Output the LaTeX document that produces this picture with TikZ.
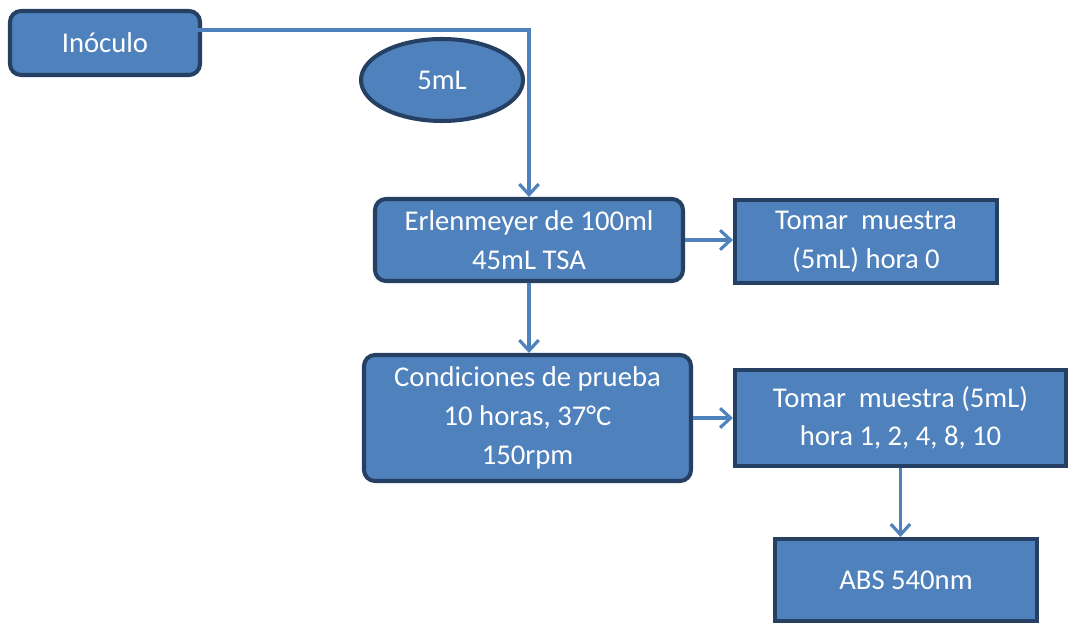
\documentclass[tikz,border=0pt]{standalone}
\usepackage{fontspec}
\setmainfont{Carlito}
\usepackage{tikz}
\usetikzlibrary{arrows.meta,positioning,calc,shapes.geometric}

\definecolor{boxblue}{RGB}{79,129,189}
\definecolor{boxedge}{RGB}{38,64,100}

\begin{document}
\begin{tikzpicture}[
    box/.style={draw=boxedge, line width=2.3pt, fill=boxblue, text=white,
                align=center, inner sep=0pt,
                font=\fontsize{16.3}{22}\selectfont},
    roundbox/.style={box, rounded corners=0.22cm},
    flow/.style={draw=boxblue, line width=1.8pt,
                 -{Straight Barb[length=6pt,width=11pt]}}
  ]
    % fix the page size
    \useasboundingbox (0,0) rectangle (21.48,-12.48);

    % the boxes
    \node[roundbox, minimum width=3.80cm, minimum height=1.28cm] (inoculo) at (2.10,-0.86) {Inóculo};
    \node[box, ellipse, minimum width=3.24cm, minimum height=1.64cm] (vol) at (8.84,-1.60) {5mL};
    \node[roundbox, minimum width=6.16cm, minimum height=1.64cm] (erlen) at (10.58,-4.80)
        {Erlenmeyer de 100ml\\45mL TSA};
    \node[roundbox, minimum width=6.54cm, minimum height=2.52cm] (cond) at (10.55,-8.36)
        {Condiciones de prueba\\10 horas, 37°C\\150rpm};
    \node[box, minimum width=5.24cm, minimum height=1.66cm] (tomar0) at (17.32,-4.83)
        {Tomar\ \ muestra\\(5mL) hora 0};
    \node[box, minimum width=6.62cm, minimum height=1.92cm] (tomar1) at (18.01,-8.36)
        {Tomar\ \ muestra (5mL)\\hora 1, 2, 4, 8, 10};
    \node[box, minimum width=5.24cm, minimum height=1.64cm] (abs) at (18.12,-11.60) {ABS 540nm};

    % the arrows
    \draw[flow] ([xshift=-0.30cm, yshift=0.26cm]inoculo.east) -| (erlen.north);
    \draw[flow] (erlen.south) -- (erlen.south |- cond.north);
    \draw[flow] (erlen.east) -- (erlen.east -| tomar0.west);
    \draw[flow] (cond.east) -- (cond.east -| tomar1.west);
    \draw[flow] (tomar1.south) -- (tomar1.south |- abs.north);
\end{tikzpicture}
\end{document}
